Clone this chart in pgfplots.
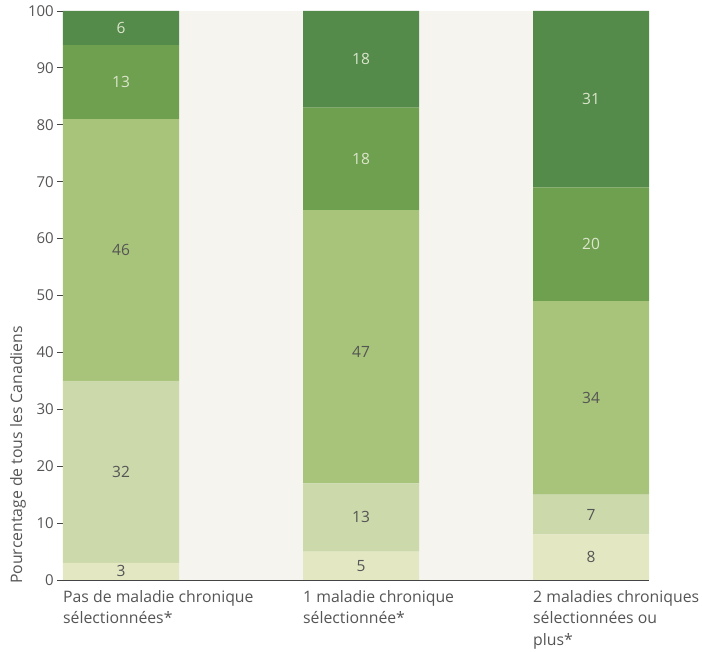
\documentclass[border=0pt]{standalone}
\usepackage{fontspec}
\setmainfont{Open Sans}
\usepackage{pgfplots}
\pgfplotsset{compat=1.18}
\definecolor{bg}{HTML}{F5F4EE}
\definecolor{c1}{HTML}{E3E8C3}
\definecolor{c2}{HTML}{CCD9AB}
\definecolor{c3}{HTML}{A8C47A}
\definecolor{c4}{HTML}{6FA050}
\definecolor{c5}{HTML}{548A4A}
\definecolor{txt}{HTML}{555555}
\definecolor{lt}{HTML}{DCE6CC}
\definecolor{axl}{HTML}{444444}
\begin{document}
\begin{tikzpicture}[x=1pt,y=1pt]
\path[use as bounding box] (-63pt,-72pt) rectangle (639pt,580pt);
\pgfplotsset{
  base/.style={
    scale only axis, width=586pt, height=569pt,
    xmin=63, xmax=649, ymin=0, ymax=100,
    clip=false,
  }
}
\begin{axis}[base,
  ybar stacked, bar width=116,
  axis background/.style={fill=bg},
  axis x line*=bottom, axis y line*=left,
  axis line style={axl, line width=0.9pt},
  ytick={0,10,...,100},
  tick align=outside, major tick length=6pt,
  tick style={axl, line width=0.9pt},
  xtick={63,303,533}, major x tick style={draw=none},
  xticklabels={{Pas de maladie chronique\\sélectionnées*},{1 maladie chronique\\sélectionnée*},{2 maladies chroniques\\sélectionnées ou\\plus*}},
  xticklabel style={anchor=north west, align=left, font=\fontsize{15.8}{21.5}\selectfont, text=txt, inner sep=0pt, yshift=-4pt},
  yticklabel style={font=\fontsize{15}{16}\selectfont, text=txt, inner xsep=3pt},
  /pgf/number format/assume math mode=true,
]
\addplot[fill=c1, draw=none] coordinates {(121,3) (361,5) (591,8)};
\addplot[fill=c2, draw=none] coordinates {(121,32) (361,12) (591,7)};
\addplot[fill=c3, draw=none] coordinates {(121,46) (361,48) (591,34)};
\addplot[fill=c4, draw=none] coordinates {(121,13) (361,18) (591,20)};
\addplot[fill=c5, draw=none] coordinates {(121,6) (361,17) (591,31)};
\end{axis}
\begin{axis}[base, hide axis,
  nodes near coords, point meta=explicit symbolic,
  nodes near coords style={anchor=center, font=\fontsize{15.5}{16}\selectfont},
]
\addplot[only marks, mark=none, nodes near coords style={text=txt}] table[meta=l] {
x y l
121 1.5 3
361 2.5 5
591 4 8
121 19 32
361 11 13
591 11.5 7
121 58 46
361 40 47
591 32 34
};
\addplot[only marks, mark=none, nodes near coords style={text=lt}] table[meta=l] {
x y l
121 87.5 13
361 74 18
591 59 20
121 97 6
361 91.5 18
591 84.5 31
};
\end{axis}
\node[rotate=90, anchor=west, text=txt, font=\fontsize{15.8}{16}\selectfont, inner sep=0pt] at (-45pt,-4pt) {Pourcentage de tous les Canadiens};
\end{tikzpicture}
\end{document}
